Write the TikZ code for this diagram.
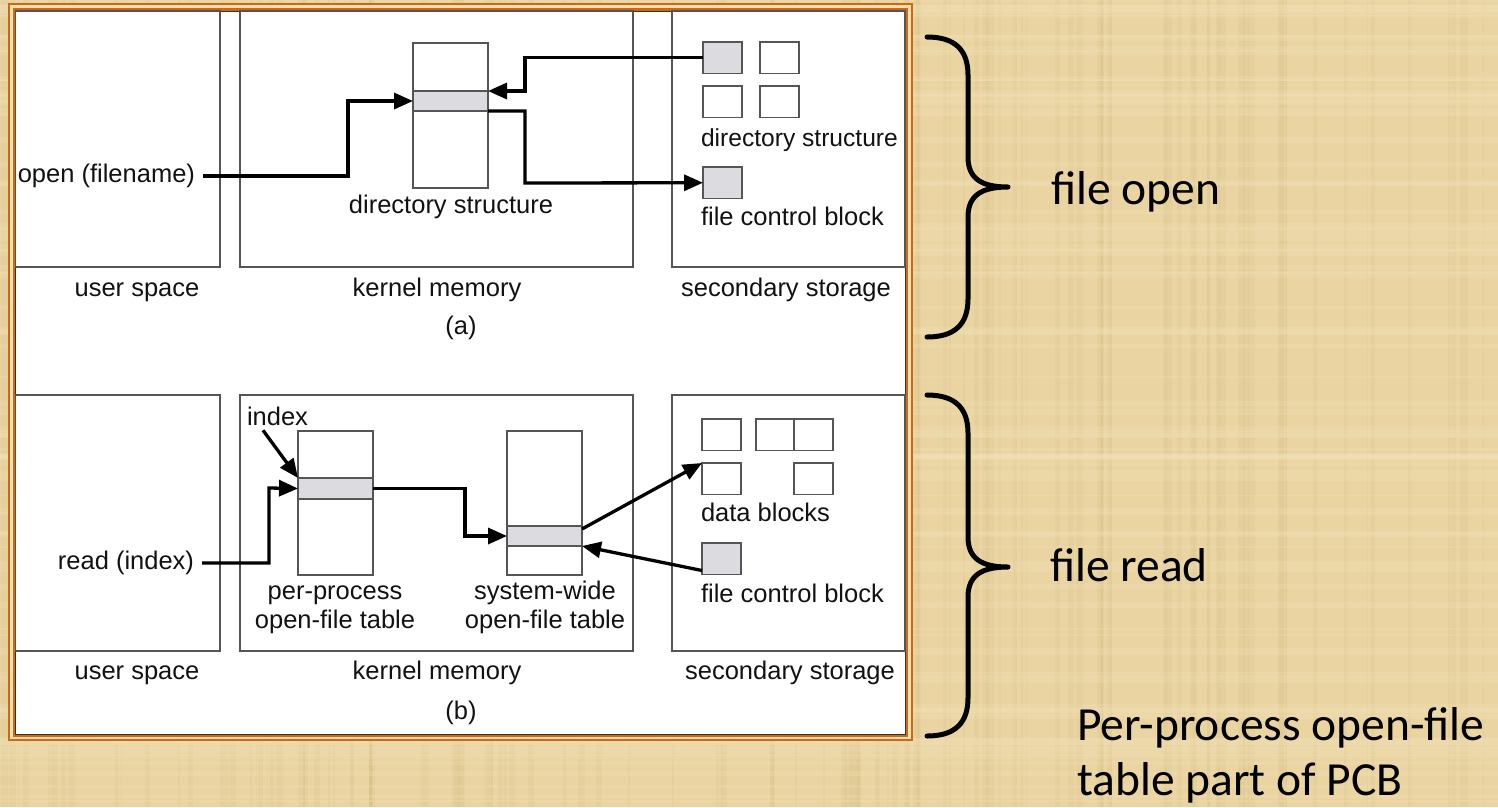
\documentclass[tikz,border=0pt]{standalone}
\usepackage{fontspec}
\setmainfont{Liberation Sans}
\newfontfamily\slidefont{Carlito}
\usetikzlibrary{arrows.meta}

\definecolor{papyrus}{RGB}{233,212,162}
\definecolor{papyrusdark}{RGB}{196,168,105}
\definecolor{papyruslight}{RGB}{246,230,190}
\definecolor{framegap}{RGB}{244,224,180}
\definecolor{frameorange}{RGB}{208,104,18}
\definecolor{cellgray}{RGB}{220,219,224}
\definecolor{edgegray}{RGB}{85,85,85}
\definecolor{inkc}{RGB}{18,18,18}

\begin{document}
\begin{tikzpicture}[x=1pt,y=-1pt,
  area/.style={draw=edgegray, line width=1.1pt, anchor=north west, inner sep=0pt, outer sep=0pt},
  tablebox/.style={draw=edgegray, line width=1.1pt, fill=white, anchor=north west,
    minimum width=75pt, inner sep=0pt, outer sep=0pt},
  rowbox/.style={draw=edgegray, line width=1.1pt, fill=cellgray, anchor=north west,
    minimum width=75pt, minimum height=20.5pt, inner sep=0pt, outer sep=0pt},
  blk/.style={draw=edgegray, line width=1.1pt, fill=white, anchor=north west,
    minimum width=39pt, minimum height=31.5pt, inner sep=0pt, outer sep=0pt},
  fblk/.style={blk, fill=cellgray},
  lbl/.style={font=\fontsize{25.5}{29}\selectfont, text=inkc, inner sep=0pt, outer sep=0pt},
  side/.style={font=\slidefont\fontsize{47.5}{55}\selectfont, text=black, inner sep=0pt, anchor=base west},
  arr/.style={draw=black, line width=3.3pt, -{Triangle[length=19pt,width=16pt]}},
  brace/.style={draw=black, line width=5pt, line cap=round, line join=round}
]
\useasboundingbox (0,0) rectangle (1498,807);

% papyrus background with woven streaks
\fill[papyrus] (0,0) rectangle (1498,807);
\pgfmathsetseed{11}
\foreach \i in {1,...,120}{
  \pgfmathsetmacro\xx{rnd*1498}
  \pgfmathsetmacro\ww{1+rnd*7}
  \fill[papyrusdark, opacity=0.10] (\xx,0) rectangle ++(\ww,807);
}
\foreach \i in {1,...,90}{
  \pgfmathsetmacro\yy{rnd*807}
  \pgfmathsetmacro\hh{1+rnd*7}
  \fill[papyruslight, opacity=0.22] (0,\yy) rectangle ++(1498,\hh);
}

% slide frame
\fill[framegap] (9,4) rectangle (912,740);
\draw[frameorange, line width=2.6pt] (9,4) rectangle (912,740);
\draw[frameorange, line width=2.6pt, fill=white] (14,9.5) rectangle (906.5,736);
\draw[black!80, line width=0.8pt] (15.5,11) rectangle (905,734);

% ---------------- (a) file open ----------------
\node[area, minimum width=204.5pt, minimum height=256pt] (userA) at (15.5,11) {};
\node[area, minimum width=393pt, minimum height=256pt] (kernA) at (240,11) {};
\node[area, minimum width=233pt, minimum height=256pt] (secA) at (672,11) {};

\node[tablebox, minimum height=145pt] (dirtab) at (413,43) {};
\node[rowbox, minimum height=20pt] (dirrow) at (413,91) {};

\node[fblk] (dblk1) at (703,42) {};
\node[blk] (dblk2) at (760,42) {};
\node[blk] (dblk3) at (703,86) {};
\node[blk] (dblk4) at (760,86) {};
\node[fblk] (fcbA) at (703,167) {};

\node[lbl, anchor=east] (openlbl) at (195,176) {open (filename)};
\node[lbl, anchor=base] (dirlblA) at (451,213) {directory structure};
\node[lbl, anchor=base west, font=\fontsize{24.6}{29}\selectfont] (dirlblR) at (701,146) {directory structure};
\node[lbl, anchor=base west] (fcblblA) at (701,225) {file control block};
\node[lbl, anchor=base] (userlblA) at (137,296) {user space};
\node[lbl, anchor=base] (kernlblA) at (437,296) {kernel memory};
\node[lbl, anchor=base] (seclblA) at (786,296) {secondary storage};
\node[lbl, anchor=base] (capA) at (461,334) {(a)};

\coordinate (bendA1) at (348,101);
\coordinate (bendA2) at (525,91);
\coordinate (bendA3) at (525,183);
\draw[arr] ([xshift=8pt]openlbl.east) -| (bendA1) -- (dirrow.west);
\draw[arr] (dblk1.west) -| (bendA2) -- (dirrow.north east);
\draw[arr] (dirrow.south east) -| (bendA3) -- (fcbA.west);

% ---------------- (b) file read ----------------
\node[area, minimum width=204.5pt, minimum height=256pt] (userB) at (15.5,395) {};
\node[area, minimum width=393pt, minimum height=256pt] (kernB) at (240,395) {};
\node[area, minimum width=233pt, minimum height=256pt] (secB) at (672,395) {};

\node[tablebox, minimum height=144pt] (pptab) at (298,431) {};
\node[rowbox, minimum height=21pt] (pprow) at (298,478) {};
\node[tablebox, minimum height=144pt] (swtab) at (507,431) {};
\node[rowbox, minimum height=20pt] (swrow) at (507,526) {};

\node[blk] (db1) at (702,419) {};
\node[blk, minimum width=38pt] (db2) at (756,419) {};
\node[blk] (db3) at (794,419) {};
\node[blk] (db4) at (702,463) {};
\node[blk] (db5) at (794,463) {};
\node[fblk] (fcbB) at (702,543) {};

\node[lbl, anchor=base west] (idxlbl) at (247,425) {index};
\node[lbl, anchor=east] (readlbl) at (194,563) {read (index)};
\node[lbl, anchor=base] (pplbl1) at (335,599) {per-process};
\node[lbl, anchor=base] (pplbl2) at (335,628) {open-file table};
\node[lbl, anchor=base] (swlbl1) at (545,599) {system-wide};
\node[lbl, anchor=base] (swlbl2) at (545,628) {open-file table};
\node[lbl, anchor=base west] (datalbl) at (701,521) {data blocks};
\node[lbl, anchor=base west] (fcblblB) at (701,602) {file control block};
\node[lbl, anchor=base] (userlblB) at (137,679) {user space};
\node[lbl, anchor=base] (kernlblB) at (437,679) {kernel memory};
\node[lbl, anchor=base] (seclblB) at (790,679) {secondary storage};
\node[lbl, anchor=base] (capB) at (461,719) {(b)};

\coordinate (bendB1) at (269,488);
\coordinate (bendB2) at (465,536);
\draw[arr] ([shift={(16,5)}]idxlbl.south west) -- (pprow.north west);
\draw[arr] ([xshift=8pt]readlbl.east) -| (bendB1) -- (pprow.west);
\draw[arr] (pprow.east) -| (bendB2) -- (swrow.west);
\draw[arr] ([yshift=-3pt]swrow.north east) -- (db4.north west);
\draw[arr] ([yshift=4pt]fcbB.south west) -- (swrow.south east);

% ---------------- braces and notes ----------------
\draw[brace] (927,37) .. controls (955,37) and (968,50) .. (968,75) -- (968,157)
  .. controls (968,179) and (982,187) .. (1008,187)
  .. controls (982,187) and (968,195) .. (968,217) -- (968,299)
  .. controls (968,324) and (955,337) .. (927,337);
\draw[brace] (927,395) .. controls (955,395) and (968,408) .. (968,433) -- (968,537)
  .. controls (968,559) and (982,567) .. (1008,567)
  .. controls (982,567) and (968,575) .. (968,597) -- (968,698)
  .. controls (968,723) and (955,736) .. (927,736);

\node[side] (opentxt) at (1051,204) {file open};
\node[side] (readtxt) at (1050,581) {file read};
\node[side] (pcbtxt1) at (1077,740) {Per-process open-file};
\node[side] (pcbtxt2) at (1077,795) {table part of PCB};
\end{tikzpicture}
\end{document}
